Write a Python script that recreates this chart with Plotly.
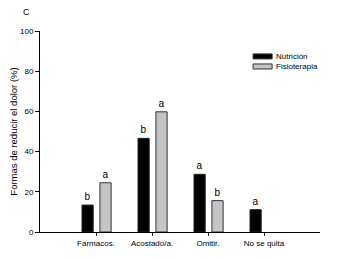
import plotly.graph_objects as go

categories = ["Farmacos.", "Acostado/a.", "Omitir.", "No se quita"]
nutricion = [13.4, 46.6, 28.7, 11.1]
fisioterapia = [24.5, 59.8, 15.6, None]
letters_nut = ["b", "b", "a", "a"]
letters_fis = ["a", "a", "b", ""]
series_names = ["Nutrición", "Fisioterapia"]
yticks = [0, 20, 40, 60, 80, 100]

xpos = list(range(1, len(categories) + 1))
colors = ["black", "#c4c4c4"]

fig = go.Figure()
fig.add_trace(go.Bar(
    x=xpos, y=nutricion, name=series_names[0], width=0.2, offset=-0.25,
    marker=dict(color=colors[0], line=dict(color="#222", width=1)),
    text=letters_nut, textposition="outside", cliponaxis=False,
    textfont=dict(size=10, color="black"),
))
fig.add_trace(go.Bar(
    x=xpos, y=fisioterapia, name=series_names[1], width=0.2, offset=0.07,
    marker=dict(color=colors[1], line=dict(color="#333", width=1)),
    text=letters_fis, textposition="outside", cliponaxis=False,
    textfont=dict(size=10, color="black"),
))

# manual legend (compact, like the reference)
shapes = []
annotations = []
leg_y = [(0.886, 0.861), (0.836, 0.811)]
for i, name in enumerate(series_names):
    y1, y0 = leg_y[i]
    shapes.append(dict(type="rect", xref="paper", yref="paper",
                       x0=0.761, x1=0.829, y0=y0, y1=y1,
                       fillcolor=colors[i], line=dict(color="#333", width=1)))
    annotations.append(dict(text=name, x=0.836, y=(y0 + y1) / 2,
                            xref="paper", yref="paper", xanchor="left",
                            yanchor="middle", showarrow=False,
                            font=dict(size=8, color="black")))
annotations.append(dict(text="C", x=-0.05, y=1.095, xref="paper", yref="paper",
                        xanchor="center", yanchor="middle", showarrow=False,
                        font=dict(size=9, color="black")))

fig.update_layout(
    width=338, height=251,
    margin=dict(l=32, r=26, t=23, b=27),
    plot_bgcolor="white", paper_bgcolor="white",
    font=dict(family="Liberation Sans, Arial", size=8, color="black"),
    barmode="overlay",
    showlegend=False,
    shapes=shapes,
    annotations=annotations,
)
fig.update_xaxes(
    range=[0, 5], tickvals=xpos, ticktext=categories,
    showline=True, linecolor="black", linewidth=1,
    ticks="outside", ticklen=3, tickcolor="black",
    showgrid=False, zeroline=False, automargin=False,
)
fig.update_yaxes(
    range=[0, 100], tickvals=yticks,
    showline=True, linecolor="black", linewidth=1,
    ticks="outside", ticklen=4, tickcolor="black",
    showgrid=False, zeroline=False, automargin=False,
    title=dict(text="Formas de reducir el dolor (%)", font=dict(size=9.5, color="black"), standoff=9),
)

fig.write_html("out.html")
